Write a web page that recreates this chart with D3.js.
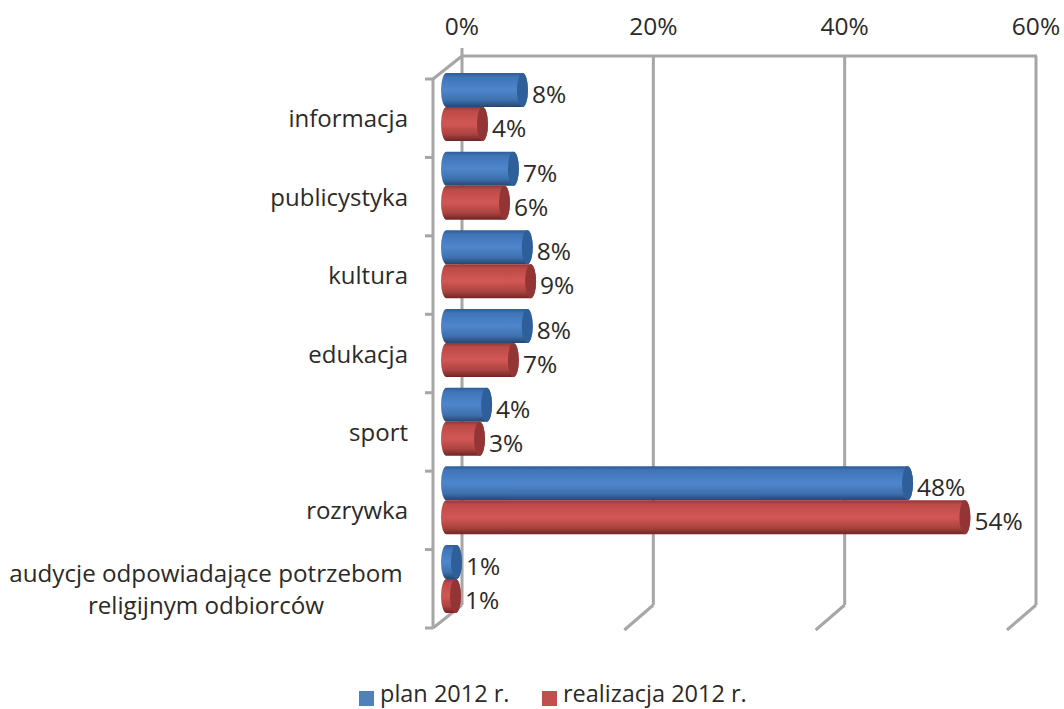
<!DOCTYPE html>
<html><head><meta charset="utf-8">
<script src="https://cdn.jsdelivr.net/npm/d3@7/dist/d3.min.js"></script>
<style>html,body{margin:0;padding:0;background:#fff}svg{display:block}text{font-family:"Open Sans",sans-serif;fill:#2b2a29}</style>
</head><body><svg id="c" width="1064" height="709"></svg>
<script>
const categories=["informacja","publicystyka","kultura","edukacja","sport","rozrywka",["audycje odpowiadające potrzebom","religijnym odbiorców"]];
const planValues=[8.15,7.2,8.65,8.65,4.4,48.4,1.25];
const realValues=[3.97,6.27,9.0,7.2,3.66,54.4,1.15];
const planLabels=["8%","7%","8%","8%","4%","48%","1%"];
const realLabels=["4%","6%","9%","7%","3%","54%","1%"];
const xTicks=[0,20,40,60];
const seriesNames=["plan 2012 r.","realizacja 2012 r."];

const svg=d3.select("#c");
const x=d3.scaleLinear().domain([0,60]).range([462,1036]);
const xBar=d3.scaleLinear().domain([0,60]).range([450,1024]);
const yFront=d3.scaleBand().domain(d3.range(7)).range([79,628]);
const yBack=[56,605], dx=-29, dy=23, grid="#a6a6a6";

const defs=svg.append("defs");
function grad(id,stops){const g=defs.append("linearGradient").attr("id",id).attr("x1",0).attr("y1",0).attr("x2",0).attr("y2",1);
  stops.forEach(s=>g.append("stop").attr("offset",s[0]).attr("stop-color",s[1]));}
grad("gb",[[0,"#2f5c96"],[.12,"#3f74b8"],[.5,"#4f86cc"],[.8,"#3f70ae"],[1,"#24466f"]]);
grad("gr",[[0,"#923735"],[.12,"#bd4b48"],[.5,"#d25755"],[.8,"#ab4341"],[1,"#6f2523"]]);
defs.append("filter").attr("id","soft").append("feGaussianBlur").attr("stdDeviation",0.5);

const g=svg.append("g").attr("filter","url(#soft)");
const line=(a,b,c,d)=>g.append("line").attr("x1",a).attr("y1",b).attr("x2",c).attr("y2",d).attr("stroke",grid).attr("stroke-width",3);

// back wall and floor
line(x(0),yBack[0],x(60)+1,yBack[0]);
line(x(0),yBack[0]-8,x(0),yBack[1]);
xTicks.slice(1).forEach(t=>{
  line(x(t),yBack[0],x(t),yBack[1]);
  line(x(t),yBack[1],x(t)+dx,yBack[1]+dy+2);
});
line(x(0),yBack[0],x(0)+dx,yBack[0]+dy);
line(x(0),yBack[1],x(0)+dx,yBack[1]+dy);
line(x(0)+dx,yBack[0]+dy,x(0)+dx,yBack[1]+dy);
d3.range(8).forEach(i=>{const y=79+i*yFront.step();line(x(0)+dx-8,y,x(0)+dx,y);});

// tick labels
svg.selectAll("text.tick").data(xTicks).join("text").attr("class","tick")
  .attr("x",d=>x(d)).attr("y",35).attr("text-anchor","middle").attr("font-size",24.5).text(d=>d+"%");

// cylinders
const rx=5.5, barH=34;
function cylinders(vals,labels,off,fill,cap){
  vals.forEach((v,i)=>{
    const top=73+i*78.67+off, x0=xBar(0)-9, x1=xBar(v);
    const b=g.append("g");
    b.append("rect").attr("x",x0).attr("y",top).attr("width",x1-x0).attr("height",barH)
      .attr("rx",rx).attr("ry",barH/2).attr("fill",`url(#${fill})`);
    b.append("ellipse").attr("cx",x1-rx).attr("cy",top+barH/2).attr("rx",rx).attr("ry",barH/2).attr("fill",cap);
    svg.append("text").attr("x",x1+4).attr("y",top+barH/2+13).attr("font-size",24.5).text(labels[i]);
  });
}
cylinders(planValues,planLabels,0,"gb","#2f5f9a");
cylinders(realValues,realLabels,34,"gr","#943634");

// category labels
categories.forEach((c,i)=>{
  const yc=79+i*yFront.step()+yFront.step()/2+9;
  if(Array.isArray(c)){
    svg.append("text").attr("x",206).attr("y",582).attr("text-anchor","middle").attr("font-size",24.2).text(c[0]);
    svg.append("text").attr("x",206).attr("y",614).attr("text-anchor","middle").attr("font-size",24.2).text(c[1]);
  } else {
    svg.append("text").attr("x",408).attr("y",yc).attr("text-anchor","end").attr("font-size",24).text(c);
  }
});

// legend
const lx=[359,542], lc=["#4f81bd","#c0504d"];
seriesNames.forEach((n,i)=>{
  svg.append("rect").attr("x",lx[i]).attr("y",691).attr("width",15).attr("height",15).attr("fill",lc[i]);
  svg.append("text").attr("x",lx[i]+21).attr("y",702).attr("font-size",23.5).text(n);
});
</script></body></html>
